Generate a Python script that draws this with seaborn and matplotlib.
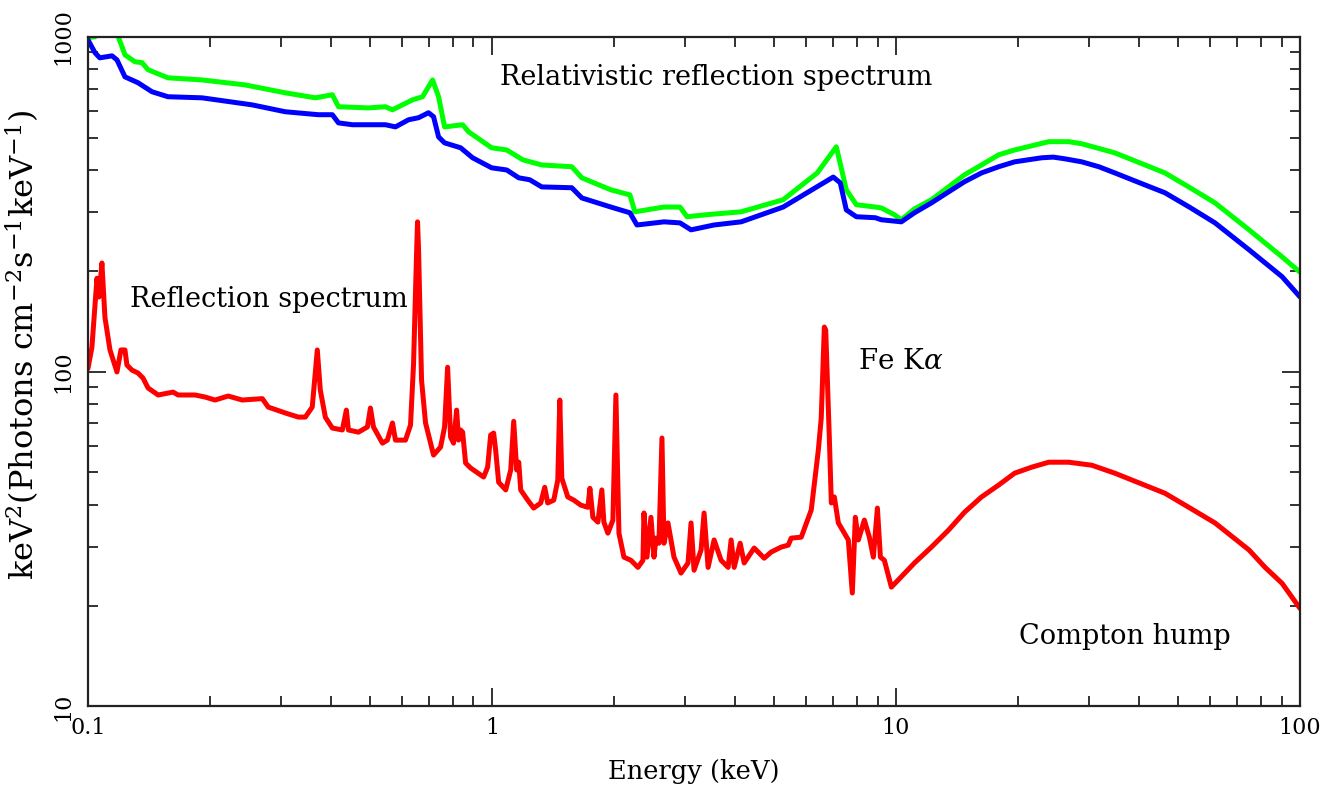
import matplotlib
matplotlib.use("Agg")
import matplotlib.pyplot as plt
import seaborn as sns
import pandas as pd

# Relativistic reflection spectrum (blurred), two versions
green_energy = [0.100, 0.1041, 0.1083, 0.112, 0.1167, 0.1187, 0.1235, 0.1307, 0.1361, 0.1409,
                0.1578, 0.1917, 0.2450, 0.3080, 0.3654, 0.4027, 0.4170, 0.4946, 0.5449, 0.5673,
                0.6360, 0.6733, 0.7129, 0.7378, 0.7634, 0.8461, 0.8754, 0.998, 1.088, 1.192,
                1.328, 1.576, 1.669, 1.969, 2.195, 2.258, 2.666, 2.92, 3.04, 3.388,
                4.138, 5.258, 6.385, 7.117, 7.534, 7.977, 8.891, 9.20, 9.91, 10.31,
                11.11, 12.24, 13.49, 14.78, 16.28, 17.95, 19.66, 23.88, 26.76, 28.83,
                34.80, 40.14, 46.30, 53.43, 61.59, 74.79, 90.28, 100.0]
green_flux = [995, 1000, 1030, 1080, 1040, 1005, 883, 842, 837, 797,
              754, 743, 718, 680, 657, 671, 618, 613, 618, 605,
              648, 662, 743, 662, 538, 546, 520, 466, 459, 429,
              414, 409, 379, 349, 337, 300, 310, 310, 290, 294,
              300, 326, 392, 469, 349, 315, 310, 308, 294, 284,
              306, 326, 356, 387, 414, 444, 459, 486, 486, 479,
              450, 420, 392, 354, 319, 265, 220, 198]

blue_energy = [0.100, 0.1041, 0.107, 0.1147, 0.118, 0.1235, 0.133, 0.1441, 0.1578, 0.1917,
               0.2548, 0.3080, 0.3717, 0.4027, 0.4170, 0.4516, 0.5449, 0.5770, 0.6217, 0.6582,
               0.6966, 0.7169, 0.7378, 0.7634, 0.8364, 0.8956, 0.998, 1.088, 1.165, 1.240,
               1.328, 1.576, 1.669, 1.969, 2.195, 2.285, 2.666, 2.92, 3.11, 3.546,
               4.138, 5.258, 6.995, 7.28, 7.534, 7.977, 8.891, 9.20, 10.31, 11.11,
               12.24, 13.49, 14.78, 16.28, 17.95, 19.66, 22.94, 24.5, 26.16, 28.83,
               31.77, 34.80, 40.14, 46.30, 53.43, 61.59, 74.79, 90.28, 100.0]
blue_flux = [980, 896, 865, 877, 853, 759, 729, 685, 662, 657,
             626, 597, 585, 585, 553, 546, 546, 538, 565, 573,
             593, 577, 502, 482, 466, 435, 406, 400, 379, 374,
             356, 354, 330, 310, 298, 274, 280, 278, 265, 274,
             280, 310, 381, 366, 304, 290, 288, 284, 280, 298,
             319, 344, 369, 392, 409, 423, 435, 437, 432, 423,
             409, 392, 366, 342, 309, 278, 231, 192, 167]

# Non-relativistic reflection spectrum with emission lines
red_energy = [0.1000, 0.1023, 0.1053, 0.1065, 0.1083, 0.1102, 0.1134, 0.1180, 0.1207, 0.1235,
              0.1249, 0.1285, 0.1330, 0.1369, 0.1409, 0.1492, 0.1625, 0.1672, 0.1842, 0.1950,
              0.2064, 0.2224, 0.2409, 0.2701, 0.2795, 0.3080, 0.3317, 0.3452, 0.3591, 0.3696,
              0.3760, 0.3870, 0.4027, 0.4263, 0.4362, 0.4413, 0.4672, 0.4918, 0.5003, 0.5090,
              0.5358, 0.5510, 0.5673, 0.5770, 0.6109, 0.6287, 0.6396, 0.6506, 0.6544, 0.6582,
              0.6695, 0.6849, 0.7169, 0.7462, 0.7634, 0.7767, 0.7901, 0.8035, 0.8176, 0.8268,
              0.8364, 0.8461, 0.8606, 0.8855, 0.9537, 0.9757, 0.9926, 1.0097, 1.0214, 1.039,
              1.0815, 1.1000, 1.113, 1.132, 1.1515, 1.165, 1.178, 1.2259, 1.2685, 1.3204,
              1.3509, 1.374, 1.4223, 1.4552, 1.4720, 1.489, 1.5408, 1.5944, 1.659, 1.7276,
              1.7475, 1.7776, 1.8291, 1.8707, 1.8923, 1.9361, 1.9923, 2.0267, 2.0620, 2.1216,
              2.208, 2.2977, 2.3644, 2.378, 2.4189, 2.4746, 2.5177, 2.5465, 2.5899, 2.6349,
              2.6652, 2.7268, 2.8220, 2.937, 3.0570, 3.110, 3.1637, 3.2929, 3.3497, 3.4272,
              3.5467, 3.6911, 3.8420, 3.908, 3.9761, 4.1145, 4.2096, 4.4566, 4.7184, 4.911,
              5.199, 5.4113, 5.504, 5.828, 6.170, 6.4233, 6.531, 6.6473, 6.70, 6.838,
              6.9182, 7.0372, 7.2000, 7.6208, 7.7966, 7.932, 8.069, 8.3500, 8.5916, 8.790,
              8.9950, 9.1498, 9.359, 9.7408, 11.11, 12.24, 13.49, 14.78, 16.28, 17.95,
              19.66, 21.67, 23.88, 26.76, 30.52, 34.80, 40.14, 46.30, 53.43, 61.59,
              74.79, 81.95, 90.28, 100.0]
red_flux = [102, 118, 190, 167, 211, 145, 116, 99.7, 116, 116,
            104.6, 101, 99.0, 95.6, 89.3, 85.1, 86.8, 85.1, 85.1, 83.9,
            82.2, 84.5, 82.2, 83.0, 78.3, 75.2, 73.1, 73.1, 78.3, 116,
            88.0, 73.0, 67.8, 66.9, 76.7, 66.9, 65.9, 68.3, 77.8, 68.3,
            61.1, 62.4, 70.2, 62.4, 62.4, 69.2, 105, 223, 280, 231,
            94.3, 70.2, 56.3, 59.5, 68.3, 103, 63.7, 61.1, 76.7, 62.4,
            66.9, 65.9, 53.3, 51.5, 48.4, 51.8, 64.6, 65.5, 58.2, 46.7,
            44.3, 48.0, 50.8, 71.0, 50.8, 53.6, 44.3, 41.3, 39.1, 40.5,
            45.1, 40.5, 41.3, 47.4, 82.2, 48.0, 42.2, 41.3, 39.9, 39.3,
            44.8, 36.7, 35.5, 44.3, 35.5, 32.9, 36.0, 85.1, 32.9, 27.9,
            27.3, 26.0, 27.3, 37.8, 27.9, 36.7, 27.9, 31.8, 30.7, 63.3,
            30.7, 35.3, 27.9, 25.0, 26.8, 35.3, 25.5, 29.3, 37.8, 26.0,
            31.4, 27.3, 26.0, 31.4, 26.0, 30.7, 26.8, 29.7, 27.7, 28.9,
            29.9, 30.3, 31.8, 32.0, 38.6, 58.2, 72.6, 135.8, 133, 63.7,
            40.5, 42.2, 35.3, 31.4, 21.8, 36.7, 31.4, 36.0, 32.0, 27.9,
            39.1, 27.9, 27.3, 22.7, 26.8, 29.9, 33.6, 38.0, 42.2, 45.8,
            49.7, 51.8, 53.6, 53.6, 52.5, 49.7, 46.4, 43.3, 39.1, 35.3,
            29.3, 26.0, 23.3, 19.6]

x_ticks = [0.1, 1, 10, 100]
x_tick_labels = ["0.1", "1", "10", "100"]
y_ticks = [10, 100, 1000]
y_tick_labels = ["10", "100", "1000"]


def main():
    sns.set_theme(style="ticks")
    plt.rcParams['font.family'] = ['DejaVu Serif']
    plt.rcParams['mathtext.fontset'] = 'dejavuserif'
    plt.rcParams['text.color'] = 'black'
    plt.rcParams['axes.labelcolor'] = 'black'
    plt.rcParams['xtick.color'] = 'black'
    plt.rcParams['ytick.color'] = 'black'

    fig, ax = plt.subplots(figsize=(13.32, 7.99), dpi=100)
    fig.subplots_adjust(left=0.066, right=0.976, top=0.954, bottom=0.116)

    series = [
        (green_energy, green_flux, "#00ff00"),
        (blue_energy, blue_flux, "#0000ff"),
        (red_energy, red_flux, "#ff0000"),
    ]
    for energy, flux, color in series:
        df = pd.DataFrame({"energy": energy, "flux": flux})
        sns.lineplot(data=df, x="energy", y="flux", color=color, lw=3.6,
                     estimator=None, sort=False, ax=ax)

    ax.set_xscale("log")
    ax.set_yscale("log")
    ax.set_xlim(0.1, 100)
    ax.set_ylim(10, 1000)

    ax.set_xticks(x_ticks, labels=x_tick_labels)
    ax.set_yticks(y_ticks, labels=y_tick_labels)
    for lab in ax.get_yticklabels():
        lab.set_rotation(90)
        lab.set_va("center")

    ax.tick_params(which="both", direction="in", top=True, right=True,
                   color="#222222", width=1.3, labelsize=16, labelcolor="black")
    ax.tick_params(which="major", length=13)
    ax.tick_params(which="minor", length=7)
    ax.tick_params(axis="x", pad=8)
    ax.tick_params(axis="y", pad=10)
    for sp in ax.spines.values():
        sp.set_linewidth(1.6)
        sp.set_color("#222222")

    ax.set_xlabel("Energy (keV)", fontsize=18.5, labelpad=14)
    ax.set_ylabel(r"keV$^2$(Photons cm$^{-2}$s$^{-1}$keV$^{-1}$)", fontsize=23)
    ax.yaxis.set_label_coords(-0.038, 0.54)

    ax.text(3.59, 754, "Relativistic reflection spectrum", fontsize=19.5,
            ha="center", va="center")
    ax.text(0.127, 164, "Reflection spectrum", fontsize=19.5, ha="left", va="center")
    ax.text(8.07, 107, r"Fe K$\alpha$", fontsize=20, ha="left", va="center")
    ax.text(20.2, 16.2, "Compton hump", fontsize=19.5, ha="left", va="center")

    fig.savefig("out.png", dpi=100)
    plt.close(fig)


if __name__ == "__main__":
    main()
